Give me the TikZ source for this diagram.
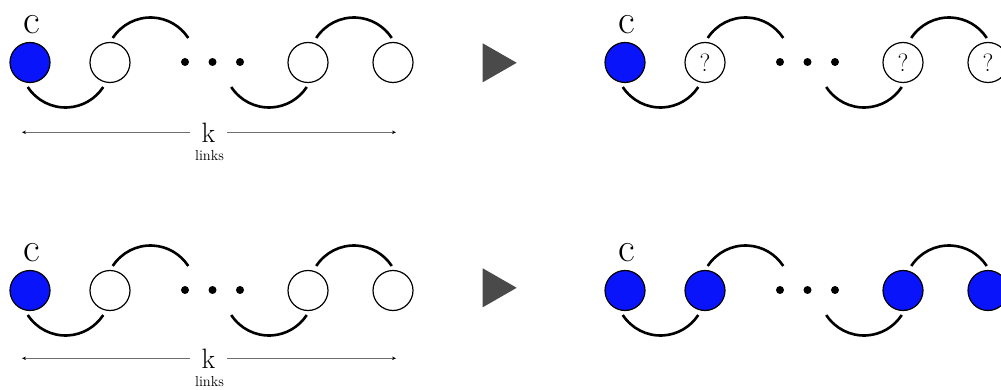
\documentclass[tikz,border=0pt]{standalone}
\usetikzlibrary{arrows.meta}
\definecolor{nodeblue}{RGB}{10,20,250}
\definecolor{triggray}{RGB}{74,74,74}
\definecolor{spangray}{RGB}{110,110,110}
\tikzset{
  chainnode/.style={circle,draw=black,line width=1.2pt,minimum size=40pt,inner sep=0pt,fill=white,font=\fontsize{25}{25}\selectfont},
  bluefill/.style={fill=nodeblue},
  plain/.style={},
  dotnode/.style={circle,fill=black,minimum size=8pt,inner sep=0pt},
  clabel/.style={inner sep=0pt,font=\fontsize{41}{41}\selectfont},
  linkarc/.style={line width=2.6pt},
  spanline/.style={draw=spangray,line width=0.9pt,-{Stealth[length=4pt,width=3.5pt,color=black]}},
  klabel/.style={inner xsep=12pt,inner ysep=0pt,font=\fontsize{28}{28}\selectfont},
  linkstext/.style={inner sep=0pt,font=\fontsize{14.5}{15}\selectfont},
  playtri/.style={fill=triggray}
}
\newcommand\mychain[4]{%
  \begin{scope}[shift={#2}]
    \node[chainnode,bluefill] (#1n1) at (30,-62.5) {};
    \node[chainnode,#3] (#1n2) at (110,-62.5) {#4};
    \node[dotnode] (#1d1) at (185,-62) {};
    \node[dotnode] (#1d2) at (212.5,-62) {};
    \node[dotnode] (#1d3) at (240,-62) {};
    \node[chainnode,#3] (#1n4) at (308,-62.5) {#4};
    \node[chainnode,#3] (#1n5) at (393,-62.5) {#4};
    \node[clabel] (#1c) at (32,-24.5) {c};
    \coordinate (#1a1) at (65.5,-62.5);
    \coordinate (#1a2) at (150.5,-62.5);
    \coordinate (#1a3) at (269,-62.5);
    \coordinate (#1a4) at (354,-62.5);
    \draw[linkarc] (#1a1) ++(213:45) arc[start angle=213,end angle=327,radius=45];
    \draw[linkarc] (#1a2) ++(147:45) arc[start angle=147,end angle=33,radius=45];
    \draw[linkarc] (#1a3) ++(213:45) arc[start angle=213,end angle=327,radius=45];
    \draw[linkarc] (#1a4) ++(147:45) arc[start angle=147,end angle=33,radius=45];
  \end{scope}}
\newcommand\myspan[2]{%
  \begin{scope}[shift={#2}]
    \node[klabel] (#1k) at (208.5,-132.3) {k};
    \coordinate (#1L) at (22,-132.3);
    \coordinate (#1R) at (396,-132.3);
    \draw[spanline] (#1k) -- (#1L);
    \draw[spanline] (#1k) -- (#1R);
    \node[linkstext] (#1links) at (209.5,-156) {links};
  \end{scope}}
\begin{document}
\begin{tikzpicture}[x=1pt,y=1pt]
  \useasboundingbox (0,0) rectangle (1001,-390);
  \clip (0,0) rectangle (1001,-390);
  % top row
  \mychain{tl}{(0,0)}{plain}{}
  \myspan{tl}{(0,0)}
  \fill[playtri] (482.7,-43.3) -- (482.7,-82.3) -- (516.7,-62.8) -- cycle;
  \mychain{tr}{(595,0)}{plain}{?}
  % bottom row
  \mychain{bl}{(0,-228)}{plain}{}
  \myspan{bl}{(0,-226)}
  \fill[playtri] (482.7,-268.3) -- (482.7,-307.3) -- (516.7,-287.8) -- cycle;
  \mychain{br}{(595,-228)}{bluefill}{}
\end{tikzpicture}
\end{document}
